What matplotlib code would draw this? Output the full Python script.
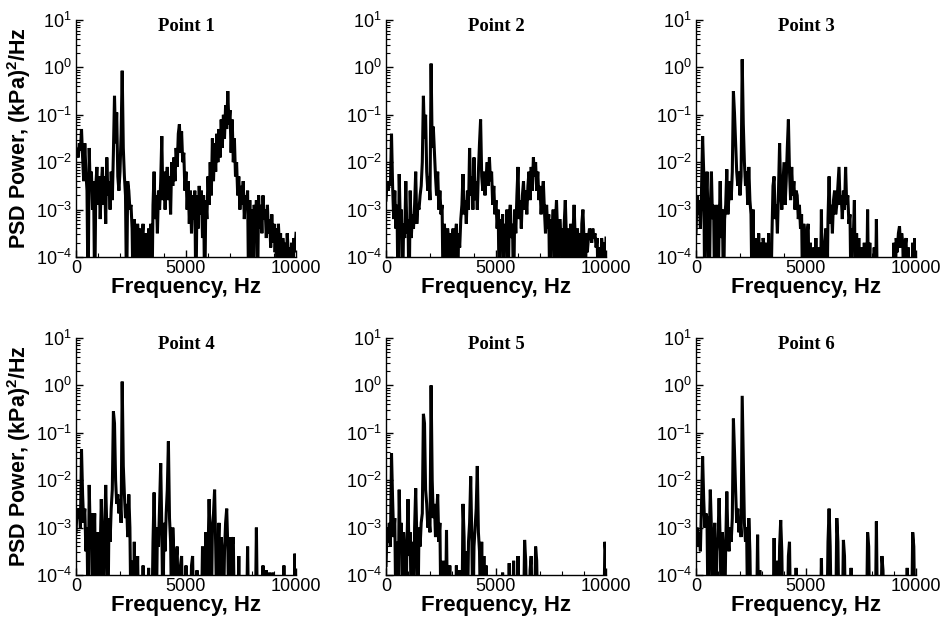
import numpy as np
import matplotlib
matplotlib.use("Agg")
import matplotlib.pyplot as plt
from matplotlib.ticker import LogLocator, MultipleLocator, FixedLocator, LogFormatterSciNotation, NullFormatter

plt.rcParams['font.family'] = ['Liberation Sans', 'DejaVu Sans']
plt.rcParams['mathtext.fontset'] = 'custom'
plt.rcParams['mathtext.rm'] = 'Liberation Sans'
plt.rcParams['mathtext.it'] = 'Liberation Sans:italic'
plt.rcParams['mathtext.bf'] = 'Liberation Sans:bold'
plt.rcParams['mathtext.default'] = 'regular'

# ---- data: frequency bins (Hz) and log10 PSD power ((kPa)^2/Hz) ----
freq_step_hz = 50
freq_hz = np.arange(201) * freq_step_hz

titles = ["Point 1", "Point 2", "Point 3", "Point 4", "Point 5", "Point 6"]

log_psd_p1 = [
    -1.8, -1.7, -1.9, -1.6, -1.75, -1.3, -1.9, -2.4, -1.6, -2.2,
    -2.6, -5, -1.7, -2.6, -2.2, -3.0, -2.4, -5, -2.5, -2.1,
    -2.9, -2.3, -3.2, -2.5, -2.1, -2.9, -2.3, -3.3, -1.9, -2.7,
    -2.4, -3.0, -2.2, -2.8, -1.8, -0.6, -1.6, -0.95, -2.3, -2.6,
    -2.2, -1.4, -0.07, -1.7, -2.3, -2.7, -5, -2.4, -2.6, -3.0,
    -2.9, -3.4, -5, -3.2, -3.6, -5, -3.3, -3.8, -3.4, -5,
    -3.6, -3.3, -5, -3.5, -3.7, -5, -3.4, -3.8, -3.3, -5,
    -2.9, -2.2, -3.2, -2.7, -3.5, -2.6, -3.0, -2.4, -1.45, -2.8,
    -2.2, -3.0, -2.4, -2.1, -2.8, -2.3, -3.1, -2.0, -2.5, -1.9,
    -2.4, -1.7, -2.1, -1.4, -1.2, -1.8, -1.35, -2.0, -1.8, -2.6,
    -2.2, -3.0, -2.4, -3.3, -2.6, -3.5, -2.7, -3.2, -2.6, -5,
    -2.7, -3.4, -2.5, -3.1, -2.6, -3.6, -2.7, -5, -2.8, -3.2,
    -2.3, -2.9, -2.0, -2.7, -1.5, -2.4, -1.6, -2.2, -1.4, -2.0,
    -1.3, -1.9, -1.1, -1.7, -1.0, -1.5, -0.8, -1.3, -0.5, -1.2,
    -0.9, -1.8, -1.1, -2.0, -1.5, -2.3, -2.0, -2.7, -2.3, -3.0,
    -2.5, -2.9, -2.4, -3.2, -2.7, -3.0, -2.6, -5, -2.8, -5,
    -3.0, -5, -2.9, -3.6, -2.8, -5, -2.7, -3.4, -2.9, -3.5,
    -2.7, -3.2, -3.0, -3.6, -2.9, -3.5, -3.2, -3.8, -3.1, -3.7,
    -3.3, -3.9, -3.4, -5, -3.3, -3.8, -3.5, -5, -3.6, -3.9,
    -3.7, -5, -3.5, -3.9, -3.8, -5, -3.7, -5, -3.6, -3.9,
    -3.5,
]

log_psd_p2 = [
    -2.8, -2.4, -2.6, -2.4, -2.5, -1.4, -2.5, -3.2, -2.6, -3.4,
    -2.9, -5, -2.25, -3.3, -3.0, -5, -3.3, -3.6, -2.4, -3.5,
    -3.2, -5, -2.6, -3.6, -3.1, -3.4, -2.9, -2.2, -3.3, -2.9,
    -3.0, -2.7, -2.5, -2.0, -0.6, -1.5, -1.0, -2.2, -2.6, -2.3,
    -2.8, 0.08, -1.7, -1.25, -1.8, -2.3, -2.7, -2.2, -3.0, -2.6,
    -3.1, -2.9, -5, -3.3, -3.6, -5, -3.4, -3.7, -5, -3.5,
    -3.8, -3.4, -5, -3.6, -3.3, -5, -3.5, -3.8, -3.2, -2.9,
    -2.25, -3.1, -2.8, -3.3, -2.6, -3.0, -1.7, -2.7, -2.3, -3.0,
    -1.9, -2.8, -2.4, -3.0, -2.2, -1.6, -1.1, -2.3, -2.6, -2.2,
    -2.7, -2.3, -2.0, -2.5, -1.9, -2.4, -2.2, -2.9, -2.5, -3.1,
    -2.8, -3.4, -3.0, -5, -3.2, -3.6, -3.1, -5, -3.3, -3.7,
    -3.0, -5, -3.2, -2.9, -3.6, -3.3, -5, -3.0, -3.5, -2.7,
    -2.1, -3.2, -2.8, -3.4, -2.7, -2.4, -3.0, -2.6, -3.1, -2.5,
    -2.2, -2.8, -2.1, -2.6, -1.9, -2.3, -2.0, -2.6, -2.2, -2.8,
    -2.5, -3.1, -2.7, -2.4, -3.0, -3.5, -2.9, -3.4, -3.1, -5,
    -3.2, -3.6, -3.0, -5, -3.3, -2.8, -3.5, -5, -3.2, -3.7,
    -3.4, -5, -3.3, -2.8, -3.6, -5, -3.4, -3.8, -3.3, -5,
    -3.5, -2.9, -3.6, -5, -3.4, -3.8, -3.5, -5, -3.3, -3.0,
    -3.6, -5, -3.5, -3.9, -3.6, -3.4, -3.5, -3.7, -3.4, -3.6,
    -3.5, -3.8, -3.6, -5, -3.8, -5, -3.6, -3.9, -3.7, -5,
    -3.6,
]

log_psd_p3 = [
    -3.5, -2.7, -3.1, -2.8, -3.4, -2.6, -1.45, -2.2, -5, -2.9,
    -2.2, -3.3, -5, -3.0, -2.2, -3.2, -2.9, -5, -3.3, -2.9,
    -5, -3.4, -2.4, -3.6, -3.0, -5, -3.2, -2.9, -2.15, -3.1,
    -2.7, -2.4, -2.8, -2.2, -0.5, -0.97, -1.6, -2.2, -2.5, -2.2,
    -2.7, -2.3, 0.17, -1.2, -2.0, -2.5, -2.2, -2.9, -2.1, -2.8,
    -3.1, -5, -3.0, -5, -3.6, -5, -5, -3.5, -5, -3.7,
    -5, -3.6, -3.8, -5, -3.7, -5, -3.5, -5, -5, -3.6,
    -2.5, -2.3, -3.2, -2.9, -3.5, -2.6, -1.6, -2.6, -3.0, -2.5,
    -2.0, -2.9, -2.4, -1.7, -1.1, -2.2, -2.8, -2.1, -2.7, -2.4,
    -3.0, -2.6, -2.7, -3.2, -2.9, -3.4, -3.1, -5, -3.3, -3.6,
    -5, -3.5, -3.3, -5, -3.7, -5, -5, -3.8, -5, -3.6,
    -5, -5, -3.8, -5, -3.0, -5, -5, -3.7, -3.4, -5,
    -3.2, -2.3, -3.3, -2.9, -3.5, -2.8, -2.6, -3.1, -2.9, -2.5,
    -2.1, -2.9, -2.7, -3.2, -2.6, -3.0, -2.1, -2.9, -2.7, -3.3,
    -3.1, -5, -3.4, -3.6, -2.8, -5, -3.5, -5, -3.6, -5,
    -5, -3.8, -5, -3.7, -5, -5, -3.0, -5, -3.7, -5,
    -5, -5, -3.8, -5, -3.2, -5, -5, -5, -5, -5,
    -5, -5, -5, -5, -5, -5, -5, -5, -5, -5,
    -3.7, -5, -3.6, -3.9, -3.5, -3.35, -3.8, -3.5, -3.7, -5,
    -3.8, -3.6, -5, -3.8, -5, -5, -5, -3.7, -5, -3.6,
    -5,
]

log_psd_p4 = [
    -3.1, -2.6, -2.8, -2.6, -3.0, -1.35, -2.3, -2.9, -2.6, -3.5,
    -3.0, -5, -2.1, -3.2, -2.7, -5, -3.4, -2.7, -5, -3.3,
    -3.1, -5, -3.5, -2.4, -3.3, -5, -3.2, -2.1, -3.0, -5,
    -2.8, -3.3, -2.6, -2.2, -0.55, -0.8, -2.0, -2.5, -2.3, -2.7,
    -2.4, -2.9, 0.08, -1.7, -2.3, -2.8, -2.5, -3.2, -2.3, -3.0,
    -5, -3.7, -5, -3.3, -5, -5, -3.6, -5, -5, -5,
    -5, -3.8, -5, -5, -5, -5, -3.85, -5, -5, -5,
    -3.3, -2.26, -3.5, -5, -3.0, -3.4, -2.5, -1.64, -3.0, -5,
    -2.9, -3.5, -2.7, -2.2, -1.18, -2.8, -3.3, -5, -3.0, -3.6,
    -5, -3.7, -3.4, -5, -5, -3.8, -3.6, -5, -5, -5,
    -3.8, -5, -5, -5, -5, -3.8, -3.6, -5, -5, -5,
    -3.9, -5, -5, -5, -5, -3.4, -5, -5, -3.1, -5,
    -3.6, -2.4, -3.3, -5, -3.0, -2.7, -2.2, -3.4, -5, -3.6,
    -2.9, -5, -3.2, -3.6, -5, -3.5, -2.9, -2.6, -3.4, -5,
    -3.2, -5, -3.4, -3.2, -5, -5, -5, -5, -3.6, -5,
    -5, -5, -5, -5, -5, -5, -3.4, -5, -5, -5,
    -5, -5, -5, -5, -3.0, -5, -5, -5, -5, -5,
    -3.8, -5, -5, -3.9, -5, -5, -3.95, -5, -5, -3.95,
    -5, -5, -5, -5, -5, -5, -5, -5, -5, -3.8,
    -5, -5, -5, -5, -5, -5, -5, -5, -5, -3.55,
    -5,
]

log_psd_p5 = [
    -3.8, -3.0, -3.3, -2.9, -3.4, -1.43, -2.4, -3.2, -2.8, -5,
    -3.3, -5, -2.2, -3.5, -2.9, -5, -3.1, -3.6, -5, -3.4,
    -2.4, -3.6, -3.1, -5, -3.3, -5, -3.0, -2.17, -3.2, -5,
    -3.0, -3.4, -2.9, -2.7, -0.6, -0.8, -2.2, -2.5, -3.0, -2.8,
    -3.1, 0.0, -2.0, -2.8, -2.5, -3.2, -2.7, -2.3, -3.3, -2.9,
    -5, -5, -3.7, -5, -5, -3.05, -5, -5, -3.8, -5,
    -5, -5, -5, -5, -3.8, -5, -5, -3.9, -5, -5,
    -2.5, -3.2, -5, -3.5, -5, -3.3, -2.9, -1.92, -3.2, -5,
    -3.4, -3.0, -2.6, -1.7, -3.1, -3.5, -5, -3.3, -5, -3.6,
    -5, -3.8, -5, -5, -5, -5, -5, -5, -5, -5,
    -5, -5, -5, -5, -5, -5, -3.95, -5, -5, -5,
    -5, -5, -3.75, -5, -5, -5, -3.7, -5, -5, -5,
    -3.6, -5, -5, -5, -5, -5, -3.26, -3.7, -5, -5,
    -5, -3.9, -3.6, -5, -5, -5, -3.4, -3.7, -5, -5,
    -5, -5, -5, -5, -5, -5, -5, -5, -5, -5,
    -5, -5, -5, -5, -5, -5, -5, -5, -5, -5,
    -5, -5, -5, -5, -5, -5, -5, -5, -5, -5,
    -5, -5, -5, -5, -5, -5, -5, -5, -5, -5,
    -5, -5, -5, -5, -5, -5, -5, -5, -5, -5,
    -5, -5, -5, -5, -5, -5, -5, -5, -5, -3.3,
    -3.6,
]

log_psd_p6 = [
    -3.3, -3.0, -3.4, -3.1, -3.5, -2.5, -1.5, -2.4, -3.0, -2.7,
    -2.8, -5, -3.3, -2.2, -3.0, -5, -3.4, -2.9, -5, -3.5,
    -3.2, -2.38, -3.3, -5, -3.1, -3.6, -5, -3.4, -2.24, -3.2,
    -3.5, -3.0, -3.3, -2.8, -0.7, -1.4, -2.2, -2.9, -2.6, -3.1,
    -2.8, -3.2, -0.22, -1.6, -2.9, -3.3, -3.0, -5, -2.8, -3.5,
    -5, -5, -5, -5, -5, -5, -3.15, -5, -3.9, -5,
    -5, -5, -5, -5, -5, -5, -5, -5, -5, -5,
    -5, -3.22, -5, -5, -3.7, -5, -3.4, -2.84, -3.5, -5,
    -5, -5, -5, -5, -3.6, -3.3, -5, -5, -5, -5,
    -5, -3.85, -5, -5, -5, -5, -5, -5, -5, -5,
    -5, -5, -5, -5, -5, -5, -5, -5, -5, -5,
    -5, -5, -5, -5, -3.65, -5, -5, -5, -5, -5,
    -3.3, -2.6, -3.4, -5, -5, -5, -5, -5, -2.8, -3.3,
    -5, -5, -5, -5, -3.26, -3.6, -5, -5, -5, -5,
    -5, -3.85, -5, -5, -5, -5, -5, -5, -5, -5,
    -5, -5, -5, -5, -5, -5, -3.1, -3.4, -5, -5,
    -5, -5, -5, -5, -2.87, -5, -5, -5, -5, -3.6,
    -3.9, -5, -5, -5, -5, -5, -5, -5, -5, -5,
    -5, -5, -5, -5, -5, -5, -5, -5, -5, -5,
    -5, -5, -3.85, -5, -5, -5, -5, -3.1, -3.4, -5,
    -5,
]

series = [log_psd_p1, log_psd_p2, log_psd_p3, log_psd_p4, log_psd_p5, log_psd_p6]

# ---- layout ----
W, H = 943, 617
fig = plt.figure(figsize=(W / 100, H / 100), dpi=100)
lefts_px = [76, 386, 696]
tops_px = [20, 338]
ax_w_px, ax_h_px = 220, 237

for k, (title, vals) in enumerate(zip(titles, series)):
    r, c = divmod(k, 3)
    l = lefts_px[c] / W
    b = 1 - (tops_px[r] + ax_h_px) / H
    ax = fig.add_axes([l, b, ax_w_px / W, ax_h_px / H])
    ax.plot(freq_hz, 10.0 ** np.asarray(vals), color='black', lw=2.2,
            solid_joinstyle='miter')
    ax.set_yscale('log')
    ax.set_xlim(0, 10000)
    ax.set_ylim(1e-4, 10)
    for s in ('top', 'right'):
        ax.spines[s].set_visible(False)
    for s in ('left', 'bottom'):
        ax.spines[s].set_linewidth(1.0)
    ax.xaxis.set_major_locator(FixedLocator([0, 5000, 10000]))
    ax.xaxis.set_minor_locator(MultipleLocator(1000))
    ax.yaxis.set_major_locator(LogLocator(base=10, numticks=10))
    ax.yaxis.set_minor_locator(LogLocator(base=10, subs=np.arange(2, 10), numticks=20))
    ax.yaxis.set_major_formatter(LogFormatterSciNotation())
    ax.yaxis.set_minor_formatter(NullFormatter())
    ax.tick_params(which='both', direction='in', labelsize=13)
    ax.tick_params(which='major', length=5, width=1.0)
    ax.tick_params(which='minor', length=3, width=0.8)
    ax.tick_params(axis='x', which='major', pad=2)
    ax.tick_params(axis='y', which='major', pad=3)
    ax.set_xlabel('Frequency, Hz', fontsize=16, fontweight='bold', labelpad=0)
    if c == 0:
        ax.set_ylabel(r'PSD Power, (kPa)$^{\bf 2}$/Hz', fontsize=15.5, fontweight='bold')
        ax.yaxis.set_label_coords(-0.195, 0.5)
    ax.text(0.5, 0.953, title, transform=ax.transAxes, ha='center', va='baseline',
            fontsize=13.5, fontweight='bold', family='Liberation Serif')

fig.savefig('out.png', dpi=100)
